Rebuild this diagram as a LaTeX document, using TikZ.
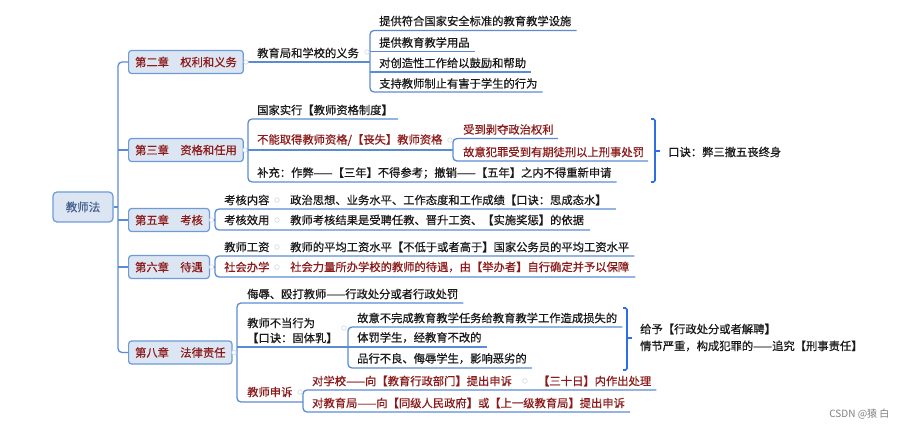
\documentclass[tikz,border=0pt]{standalone}
\usepackage{fontspec}
\usetikzlibrary{calc}
\newfontfamily\cjk[FakeBold=0.6]{Noto Sans CJK SC}
\newfontfamily\cjkwm{Noto Sans CJK SC}
\definecolor{lineb}{HTML}{5A8CD6}
\definecolor{boxline}{HTML}{6D9BD8}
\definecolor{boxfill}{HTML}{DCE6F2}
\definecolor{dred}{RGB}{140,26,26}
\definecolor{sumb}{HTML}{2F6FE4}
\definecolor{roottext}{HTML}{44618F}
\definecolor{dotc}{HTML}{D2D8E2}
\begin{document}
\begin{tikzpicture}[x=1pt,y=-1pt,
  tx/.style={anchor=west, inner sep=0pt, font=\cjk\fontsize{11.3}{15}\selectfont, text=black!90},
  rt/.style={text=dred},
  chap/.style={anchor=west, draw=boxline, fill=boxfill, line width=1.2pt, rounded corners=3pt, text=dred, inner xsep=6.5pt, inner ysep=0pt, minimum height=23pt, font=\cjk\fontsize{11.3}{14}\selectfont},
  rootbox/.style={draw=boxline, fill=boxfill, line width=1.2pt, rounded corners=4pt, minimum width=60pt, minimum height=30pt, text=roottext, font=\cjk\fontsize{11.5}{14}\selectfont},
  ln/.style={draw=lineb, line width=1.3pt, rounded corners=4pt},
  sb/.style={draw=sumb, line width=1.6pt, rounded corners=1.5pt},
  cdot/.style={circle, draw=dotc, fill=white, line width=0.6pt, minimum size=4.5pt, inner sep=0pt}
]
\useasboundingbox (0,0) rectangle (904,427);
\fill[white] (0,0) rectangle (904,427);

% root and chapters
\node[rootbox] (root) at (83,207) {教师法};
\node[chap] (c2) at (128,62) {第二章\hspace{1em}权利和义务};
\node[chap] (c3) at (128,150) {第三章\hspace{1em}资格和任用};
\node[chap] (c5) at (128,220) {第五章\hspace{1em}考核};
\node[chap] (c6) at (128,267) {第六章\hspace{1em}待遇};
\node[chap] (c8) at (128,352.5) {第八章\hspace{1em}法律责任};

\coordinate (trR) at (118,207);
\coordinate (tr2) at (118,62);
\coordinate (tr3) at (118,150);
\coordinate (tr5) at (118,220);
\coordinate (tr6) at (118,267);
\coordinate (tr8) at (118,352.5);
\draw[ln] (c2.west) -- (tr2) -- (tr8) -- (c8.west);
\draw[ln] (root.east) -- (trR);
\draw[ln] (tr3) -- (c3.west);
\draw[ln] (tr5) -- (c5.west);
\draw[ln] (tr6) -- (c6.west);

% chapter 2
\node[tx] (t21) at (257,53) {教育局和学校的义务};
\node[tx] (t211) at (379,21) {提供符合国家安全标准的教育教学设施};
\node[tx] (t212) at (379,42.5) {提供教育教学用品};
\node[tx] (t213) at (379,63) {对创造性工作给以鼓励和帮助};
\node[tx] (t214) at (379,83.5) {支持教师制止有害于学生的行为};
\coordinate (b2p) at (370,62);
\coordinate (b21) at (370,30.5);
\coordinate (b22) at (370,51.5);
\coordinate (b23) at (370,72);
\coordinate (b24) at (370,92);
\draw[ln] (c2.east) -- (b2p);
\draw[ln] ($(b21 -| t211.east)+(5,0)$) -- (b21) -- (b24) -- ($(b24 -| t214.east)+(5,0)$);
\draw[ln] (b22) -- ($(b22 -| t212.east)+(5,0)$);
\draw[ln] (b23) -- ($(b23 -| t213.east)+(5,0)$);

% chapter 3
\node[tx] (t31) at (257,110) {国家实行【教师资格制度】};
\node[tx, rt] (t32) at (257,140) {不能取得教师资格/【丧失】教师资格};
\node[tx] (t33) at (257,173) {补充：作弊——【三年】不得参考；撤销——【五年】之内不得重新申请};
\node[tx, rt] (t321) at (463,129.5) {受到剥夺政治权利};
\node[tx, rt] (t322) at (463,152) {故意犯罪受到有期徒刑以上刑事处罚};
\coordinate (b3p) at (248,150);
\coordinate (b31) at (248,119);
\coordinate (b33) at (248,182);
\coordinate (b32p) at (453,150);
\coordinate (b321) at (453,138.5);
\coordinate (b322) at (453,161);
\draw[ln] (c3.east) -- (b3p) -- (b32p);
\draw[ln] ($(b31 -| t31.east)+(5,0)$) -- (b31) -- (b33) -- ($(b33 -| t33.east)+(5,0)$);
\draw[ln] ($(b321 -| t321.east)+(4,0)$) -- (b321) -- (b322) -- ($(b322 -| t322.east)+(4,0)$);
\coordinate (s3t) at (651,119);
\coordinate (s3b) at (651,182);
\coordinate (s3m) at (655,151);
\node[tx] (k3) at (668,152) {口诀：弊三撤五丧终身};
\draw[sb] (s3t) -- (s3t -| s3m) -- (s3b -| s3m) -- (s3b);
\draw[sb] (s3m) -- ++(5,0);

% chapter 5
\node[tx] (t51) at (224,200) {考核内容};
\node[tx] (t511) at (290,200) {政治思想、业务水平、工作态度和工作成绩【口诀：思成态水】};
\node[tx] (t52) at (224,220) {考核效用};
\node[tx] (t521) at (290,220) {教师考核结果是受聘任教、晋升工资、【实施奖惩】的依据};
\coordinate (b5p) at (215,220);
\coordinate (b51) at (215,209);
\coordinate (b52) at (215,230);
\draw[ln] (c5.east) -- (b5p);
\draw[ln] ($(b51 -| t511.east)+(9,0)$) -- (b51) -- (b52) -- ($(b52 -| t521.east)+(6,0)$);

% chapter 6
\node[tx] (t61) at (224,247) {教师工资};
\node[tx] (t611) at (290,247) {教师的平均工资水平【不低于或者高于】国家公务员的平均工资水平};
\node[tx, rt] (t62) at (224,267) {社会办学};
\node[tx, rt] (t621) at (290,267) {社会力量所办学校的教师的待遇，由【举办者】自行确定并予以保障};
\coordinate (b6p) at (215,267);
\coordinate (b61) at (215,256);
\coordinate (b62) at (215,277);
\draw[ln] (c6.east) -- (b6p);
\draw[ln] ($(b61 -| t611.east)+(5,0)$) -- (b61) -- (b62) -- ($(b62 -| t621.east)+(6,0)$);

% chapter 8
\node[tx] (t81) at (247,294) {侮辱、殴打教师——行政处分或者行政处罚};
\node[tx, align=left] (t82) at (247,330.5) {教师不当行为\\【口诀：固体乳】};
\node[tx, rt] (t83) at (247,392) {教师申诉};
\node[tx] (t811) at (357,318) {故意不完成教育教学任务给教育教学工作造成损失的};
\node[tx] (t812) at (357,337.5) {体罚学生，经教育不改的};
\node[tx] (t813) at (357,358.5) {品行不良、侮辱学生，影响恶劣的};
\node[tx, rt] (t821) at (312,381) {对学校——向【教育行政部门】提出申诉};
\node[tx, rt] (t8211) at (538,381) {【三十日】内作出处理};
\node[tx, rt] (t822) at (312,403) {对教育局——向【同级人民政府】或【上一级教育局】提出申诉};
\coordinate (b8p) at (237,352.5);
\coordinate (b81) at (237,303);
\coordinate (b82) at (237,347);
\coordinate (b83) at (237,402);
\coordinate (b7p) at (348,347);
\coordinate (b71) at (348,327);
\coordinate (b73) at (348,368);
\coordinate (b9p) at (303,402);
\coordinate (b91) at (303,390);
\coordinate (b92) at (303,412);
\draw[ln] (c8.east) -- (b8p);
\draw[ln] ($(b81 -| t81.east)+(5,0)$) -- (b81) -- (b83) -- (b9p);
\draw[ln] (b82) -- (b7p);
\draw[ln] ($(b71 -| t811.east)+(5,0)$) -- (b71) -- (b73) -- ($(b73 -| t813.east)+(5,0)$);
\draw[ln] (b7p) -- ($(b7p -| t812.east)+(5,0)$);
\draw[ln] ($(b91 -| t8211.east)+(5,0)$) -- (b91) -- (b92) -- ($(b92 -| t822.east)+(5,0)$);
\coordinate (s8t) at (623,308);
\coordinate (s8b) at (623,370);
\coordinate (s8m) at (627,338);
\node[tx] (k81) at (640,329) {给予【行政处分或者解聘】};
\node[tx] (k82) at (640,346) {情节严重，构成犯罪的——追究【刑事责任】};
\draw[sb] (s8t) -- (s8t -| s8m) -- (s8b -| s8m) -- (s8b);
\draw[sb] (s8m) -- ++(5,0);

% collapse indicators
\node[cdot] (d2) at (246,62) {};
\node[cdot] (d3) at (245,150) {};
\node[cdot] (d5) at (211.5,220) {};
\node[cdot] (d6) at (211.5,267) {};
\node[cdot] (d8) at (234,352.5) {};
\node[cdot] (d21) at (367,52) {};
\node[cdot] (d32) at (450,140) {};
\node[cdot] (d51) at (277,200) {};
\node[cdot] (d52) at (277,220) {};
\node[cdot] (d61) at (277,247) {};
\node[cdot] (d62) at (277,267) {};
\node[cdot] (d82) at (344,328) {};
\node[cdot] (d83) at (300,392) {};
\node[cdot] (d821) at (525,381) {};

% watermark
\node[font=\cjkwm\fontsize{10}{12}\selectfont, text=black!50, anchor=east] (wm) at (893,414) {CSDN @猿 白};
\end{tikzpicture}
\end{document}
